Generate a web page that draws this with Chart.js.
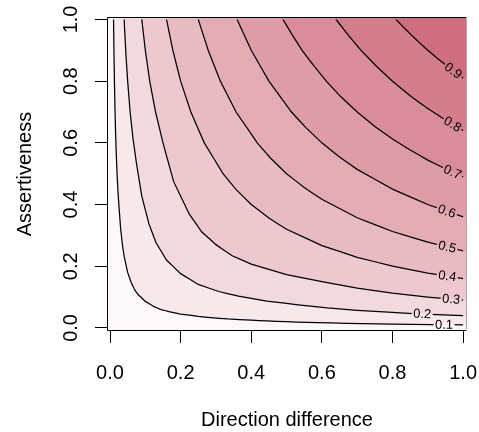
<!DOCTYPE html>
<html><head><meta charset="utf-8">
<script src="https://cdn.jsdelivr.net/npm/chart.js@4"></script>
<style>html,body{margin:0;padding:0;background:#fff;}canvas{display:block;}</style>
</head><body>
<canvas id="c" width="479" height="432" style="width:479px;height:432px"></canvas>
<script>
// ---- data ----
const xTicks = [0, 0.2, 0.4, 0.6, 0.8, 1.0];
const yTicks = [0, 0.2, 0.4, 0.6, 0.8, 1.0];
const xTickLabels = ['0.0', '0.2', '0.4', '0.6', '0.8', '1.0'];
const yTickLabels = ['0.0', '0.2', '0.4', '0.6', '0.8', '1.0'];
const levels = [0.1, 0.2, 0.3, 0.4, 0.5, 0.6, 0.7, 0.8, 0.9];
const levelLabels = ['0.1', '0.2', '0.3', '0.4', '0.5', '0.6', '0.7', '0.8', '0.9'];
// contour lines as [x, y] points
const c01 = [[0.01,1],[0.011,0.909],[0.0125,0.8],[0.014,0.714],[0.016,0.625],[0.018,0.556],[0.02,0.5],[0.0225,0.444],[0.025,0.4],[0.03,0.323],[0.035,0.271],[0.04,0.2325],[0.05,0.18],[0.06,0.147],[0.07,0.123],[0.08,0.1075],[0.1,0.086],[0.125,0.0688],[0.143,0.0601],[0.167,0.0527],[0.2,0.045],[0.25,0.0372],[0.286,0.0332],[0.333,0.0291],[0.4,0.025],[0.444,0.0225],[0.5,0.02],[0.556,0.018],[0.625,0.016],[0.714,0.014],[0.8,0.0125],[0.909,0.011],[1,0.01]];
const c02 = [[0.04,1],[0.045,0.889],[0.05,0.8],[0.057,0.7],[0.065,0.615],[0.075,0.533],[0.09,0.427],[0.11,0.338],[0.13,0.277],[0.16,0.22],[0.2,0.176],[0.25,0.141],[0.308,0.118],[0.364,0.103],[0.444,0.087],[0.533,0.075],[0.615,0.065],[0.7,0.057],[0.8,0.05],[0.889,0.045],[1,0.04]];
const c03 = [[0.09,1],[0.1,0.9],[0.1125,0.8],[0.129,0.7],[0.15,0.6],[0.18,0.475],[0.225,0.368],[0.26,0.311],[0.3,0.27],[0.346,0.234],[0.4,0.207],[0.5,0.173],[0.6,0.15],[0.7,0.129],[0.8,0.1125],[0.9,0.1],[1,0.09]];
const c04 = [[0.16,1],[0.178,0.9],[0.2,0.8],[0.229,0.7],[0.267,0.6],[0.32,0.5],[0.356,0.45],[0.4,0.4],[0.45,0.356],[0.5,0.32],[0.6,0.267],[0.7,0.229],[0.8,0.2],[0.9,0.178],[1,0.16]];
const c05 = [[0.25,1],[0.278,0.9],[0.3125,0.8],[0.357,0.7],[0.417,0.6],[0.455,0.55],[0.5,0.5],[0.55,0.455],[0.6,0.417],[0.7,0.357],[0.8,0.3125],[0.9,0.278],[1,0.25]];
const c06 = [[0.36,1],[0.4,0.9],[0.45,0.8],[0.514,0.7],[0.554,0.65],[0.6,0.6],[0.65,0.554],[0.7,0.514],[0.8,0.45],[0.9,0.4],[1,0.36]];
const c07 = [[0.49,1],[0.516,0.95],[0.544,0.9],[0.577,0.85],[0.6125,0.8],[0.653,0.75],[0.7,0.7],[0.75,0.653],[0.8,0.6125],[0.85,0.577],[0.9,0.544],[0.95,0.516],[1,0.49]];
const c08 = [[0.64,1],[0.674,0.95],[0.711,0.9],[0.753,0.85],[0.8,0.8],[0.85,0.753],[0.9,0.711],[0.95,0.674],[1,0.64]];
const c09 = [[0.81,1],[0.831,0.975],[0.853,0.95],[0.876,0.925],[0.9,0.9],[0.925,0.876],[0.95,0.853],[0.975,0.831],[1,0.81]];
const contours = [c01, c02, c03, c04, c05, c06, c07, c08, c09];

// ---- styles / placement ----
const bandColors = ['#FCF7F8','#F7E8EB','#F2D9DD','#EDC9CF','#E8BAC2','#E3ABB4','#DE9CA7','#D98C99','#D47D8B','#CF6E7E'];
const labelAt = [0.946, 0.884, 0.966, 0.955, 0.955, 0.954, 0.970, 0.970, 0.972];
const X0 = -0.0085, X1 = 1.011, Y0 = -0.01, Y1 = 1.008;
const FONT = 'Liberation Sans, Arial, Helvetica, sans-serif';

const datasets = contours.map((pts, i) => {
  const n = pts.length;
  const data = [{x: X0, y: Y1}, {x: pts[0][0], y: Y1}]
    .concat(pts.map(p => ({x: p[0], y: p[1]})))
    .concat([{x: X1, y: pts[n - 1][1]}]);
  return {
    label: levelLabels[i], data, showLine: true, pointRadius: 0, tension: 0.00001,
    borderColor: '#000', borderWidth: 1.25, backgroundColor: bandColors[i], fill: 'start'
  };
});
datasets.push({label: 'top', data: [{x: X0, y: Y1}, {x: X1, y: Y1}], showLine: true, pointRadius: 0,
  borderWidth: 0, borderColor: 'rgba(0,0,0,0)', backgroundColor: bandColors[9], fill: 'start'});

function labelGeom(chart, i) {
  const xs = chart.scales.x, ys = chart.scales.y, pts = contours[i], lx = labelAt[i];
  let k = 0;
  while (k < pts.length - 2 && pts[k + 1][0] < lx) k++;
  const p = pts[k], q = pts[k + 1];
  const t = (lx - p[0]) / (q[0] - p[0]);
  const x1 = xs.getPixelForValue(p[0]), y1 = ys.getPixelForValue(p[1]);
  const x2 = xs.getPixelForValue(q[0]), y2 = ys.getPixelForValue(q[1]);
  return {cx: x1 + t * (x2 - x1), cy: y1 + t * (y2 - y1), ang: Math.atan2(y2 - y1, x2 - x1)};
}
const LABEL_FONT = '13px ' + FONT;

const contourLabels = {
  id: 'contourLabels',
  beforeDatasetDraw(chart, args) {
    const i = args.index;
    if (i >= levels.length) return;
    const ctx = chart.ctx, a = chart.chartArea;
    const xr = chart.scales.x.getPixelForValue(1), yt = chart.scales.y.getPixelForValue(1);
    ctx.save();
    ctx.font = LABEL_FONT;
    const g = labelGeom(chart, i);
    const hw = ctx.measureText(levelLabels[i]).width / 2 + 1.5, hh = 7;
    const c = Math.cos(g.ang), s = Math.sin(g.ang);
    const pt = (u, v) => [g.cx + c * u - s * v, g.cy + s * u + c * v];
    ctx.beginPath();
    ctx.rect(a.left, yt, xr - a.left, a.bottom - yt);
    const corners = [pt(-hw, -hh), pt(hw, -hh), pt(hw, hh), pt(-hw, hh)];
    ctx.moveTo(corners[0][0], corners[0][1]);
    for (let k = 1; k < 4; k++) ctx.lineTo(corners[k][0], corners[k][1]);
    ctx.closePath();
    ctx.clip('evenodd');
  },
  afterDatasetDraw(chart, args) {
    if (args.index < levels.length) chart.ctx.restore();
  },
  afterDatasetsDraw(chart) {
    const ctx = chart.ctx;
    levels.forEach((lv, i) => {
      const g = labelGeom(chart, i);
      ctx.save();
      ctx.font = LABEL_FONT;
      ctx.fillStyle = '#000';
      ctx.textAlign = 'center';
      ctx.textBaseline = 'middle';
      ctx.translate(g.cx, g.cy);
      ctx.rotate(g.ang);
      ctx.fillText(levelLabels[i], 0, 0.5);
      ctx.restore();
    });
  },
  afterDraw(chart) {
    const ctx = chart.ctx, a = chart.chartArea;
    ctx.save();
    ctx.lineWidth = 1;
    ctx.strokeStyle = '#000';
    ctx.beginPath();
    ctx.moveTo(a.right - 1, a.top + 0.5);
    ctx.lineTo(a.left + 0.5, a.top + 0.5);
    ctx.lineTo(a.left + 0.5, a.bottom - 0.5);
    ctx.lineTo(a.right - 1, a.bottom - 0.5);
    ctx.stroke();
    ctx.strokeStyle = '#aaa';
    ctx.beginPath();
    ctx.moveTo(a.right - 0.5, a.top);
    ctx.lineTo(a.right - 0.5, a.bottom);
    ctx.stroke();
    ctx.restore();
  }
};

const tickFont = {family: FONT, size: 20};
new Chart(document.getElementById('c'), {
  type: 'scatter',
  data: {datasets},
  options: {
    responsive: false, animation: false, devicePixelRatio: 1,
    layout: {padding: {top: 17, right: 12, bottom: 0, left: 0}},
    plugins: {legend: {display: false}, tooltip: {enabled: false}, filler: {drawTime: 'beforeDatasetsDraw'}},
    scales: {
      x: {
        type: 'linear', min: X0, max: X1,
        afterBuildTicks: s => { s.ticks = xTicks.map(v => ({value: v})); },
        ticks: {callback: (v, i) => xTickLabels[i], font: tickFont, color: '#000', padding: 18, minRotation: 0, maxRotation: 0, autoSkip: false},
        grid: {display: true, drawOnChartArea: false, drawTicks: true, tickLength: 12, color: '#000', lineWidth: 1},
        border: {display: false},
        title: {display: true, text: 'Direction difference', font: {family: FONT, size: 20, lineHeight: 1.2}, color: '#000', padding: {top: 0, bottom: 0}},
        afterFit: s => { s.height = 101; s.paddingLeft = 0; s.paddingRight = 0; }
      },
      y: {
        type: 'linear', min: Y0, max: Y1,
        afterBuildTicks: s => { s.ticks = yTicks.map(v => ({value: v})); },
        ticks: {callback: (v, i) => yTickLabels[i], font: tickFont, color: '#000', padding: 9.5, minRotation: 90, maxRotation: 90, crossAlign: 'center', autoSkip: false},
        grid: {display: true, drawOnChartArea: false, drawTicks: true, tickLength: 12, color: '#000', lineWidth: 1},
        border: {display: false},
        title: {display: true, text: 'Assertiveness', font: {family: FONT, size: 20, lineHeight: 1.2}, color: '#000', padding: {top: 13, bottom: 0}},
        afterFit: s => { s.width = 107; s.paddingTop = 0; s.paddingBottom = 0; }
      }
    }
  },
  plugins: [contourLabels]
});
</script>
</body></html>
